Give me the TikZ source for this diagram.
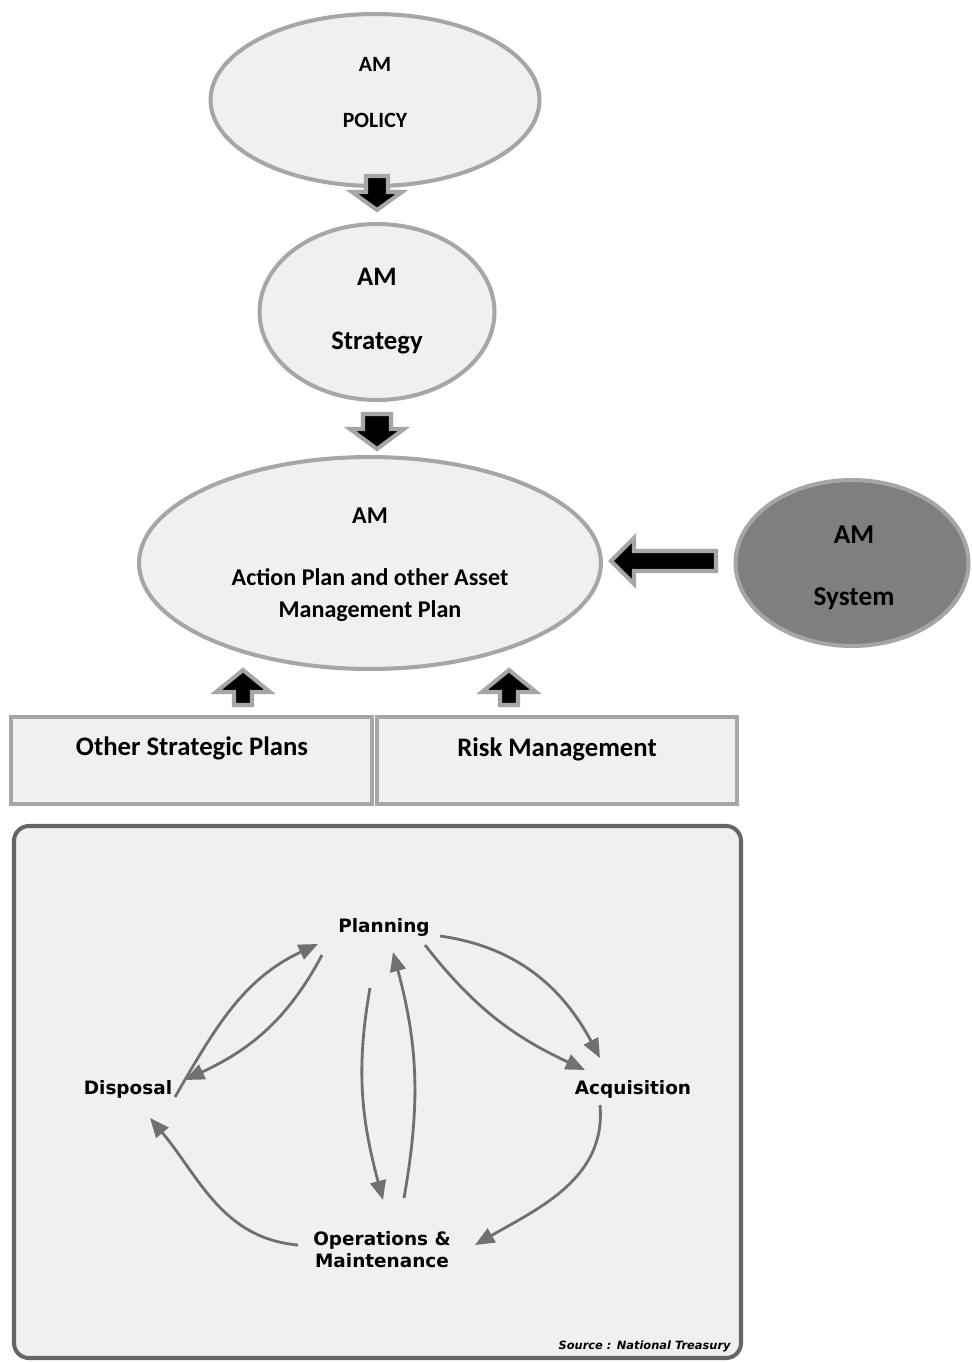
\documentclass[tikz,border=0pt]{standalone}
\usepackage{fontspec}
\setmainfont{Carlito}
\newfontfamily\cycfont{DejaVu Sans}
\usetikzlibrary{shapes.geometric,arrows.meta}

\definecolor{rimgray}{HTML}{A6A6A6}
\definecolor{paleback}{HTML}{F0F0F0}
\definecolor{darkfill}{HTML}{7F7F7F}
\definecolor{framegray}{HTML}{666666}
\definecolor{cyclegray}{HTML}{707070}

\tikzset{
	amellipse/.style={ellipse,draw=rimgray,fill=paleback,line width=2.3pt,inner sep=0pt},
	amtext/.style={inner sep=0pt},
	planbox/.style={rectangle,draw=rimgray,fill=paleback,line width=2.3pt,inner sep=0pt},
	blockarrow/.style={draw=rimgray,fill=black,line width=2.3pt,line join=miter},
	cyclabel/.style={font=\cycfont\bfseries\fontsize{10.5}{12.5}\selectfont,align=center,inner sep=0pt},
	cycarrow/.style={draw=cyclegray,line width=1.6pt,-{Triangle[length=11pt,width=9pt]}}
}

\begin{document}
\begin{tikzpicture}[x=0.02cm,y=-0.02cm]
		
		\useasboundingbox[fill=white] (0,0) rectangle (971,1362);
		
		\node[amellipse,minimum width=6.58cm,minimum height=3.44cm] (policy) at (375,100) {};
		\node[amtext,font=\fontsize{12.4}{14}\selectfont\bfseries] (policyA) at (375,64) {AM};
		\node[amtext,font=\fontsize{12.4}{14}\selectfont\bfseries] (policyB) at (375,120) {POLICY};
		
		\node[amellipse,minimum width=4.7cm,minimum height=3.52cm] (strategy) at (377,312) {};
		\node[amtext,font=\fontsize{15.2}{17}\selectfont\bfseries] (strategyA) at (377,277) {AM};
		\node[amtext,font=\fontsize{15.2}{17}\selectfont\bfseries] (strategyB) at (377,343) {Strategy};
		
		\node[amellipse,minimum width=9.24cm,minimum height=4.24cm] (action) at (370,563) {};
		\node[amtext,font=\fontsize{13.7}{15}\selectfont\bfseries] (actionA) at (370,516) {AM};
		\node[amtext,font=\fontsize{13.7}{15}\selectfont\bfseries] (actionB) at (370,577) {Action Plan and other Asset};
		\node[amtext,font=\fontsize{13.7}{15}\selectfont\bfseries] (actionC) at (370,611) {Management Plan};
		
		\node[amellipse,fill=darkfill,minimum width=4.66cm,minimum height=3.32cm] (system) at (852,563) {};
		\node[amtext,font=\fontsize{15.5}{17}\selectfont\bfseries] (systemA) at (854,535) {AM};
		\node[amtext,font=\fontsize{15.5}{17}\selectfont\bfseries] (systemB) at (854,599) {System};
		
		\node[planbox,minimum width=7.22cm,minimum height=1.74cm] (otherplans) at (191.5,760.5) {};
		\node[amtext,font=\fontsize{15.2}{17}\selectfont\bfseries] (otherplansT) at (192,748) {Other Strategic Plans};
		\node[planbox,minimum width=7.22cm,minimum height=1.74cm] (riskmgmt) at (557,760.5) {};
		\node[amtext,font=\fontsize{15.2}{17}\selectfont\bfseries] (riskmgmtT) at (557,749) {Risk Management};
		
		\draw[blockarrow] (366,176) -- (388,176) -- (388,192) -- (402,192) -- (377,210) -- (352,192) -- (366,192) -- cycle;
		\draw[blockarrow] (363,414) -- (391,414) -- (391,429) -- (404,429) -- (377,449) -- (350,429) -- (363,429) -- cycle;
		\draw[blockarrow] (716,551) -- (716,571) -- (634,571) -- (634,584) -- (611,561) -- (634,538) -- (634,551) -- cycle;
		\draw[blockarrow] (234,705) -- (252,705) -- (252,692) -- (270,692) -- (243,670) -- (216,692) -- (234,692) -- cycle;
		\draw[blockarrow] (500,705) -- (518,705) -- (518,692) -- (536,692) -- (509,670) -- (482,692) -- (500,692) -- cycle;
		
		\draw[draw=framegray,fill=paleback,line width=2.3pt,rounded corners=0.3cm] (14,826) rectangle (741,1358);
		
		\node[cyclabel] (plan) at (384,927) {Planning};
		\node[cyclabel] (acq) at (633,1089) {Acquisition};
		\node[cyclabel] (ops) at (382,1250) {Operations \&\\Maintenance};
		\node[cyclabel] (disp) at (128,1089) {Disposal};
		
		\draw[cycarrow] ([shift={(56,9)}]plan.center) to[out=-8,in=118] ([shift={(-33,-31)}]acq.center);
		\draw[cycarrow] ([shift={(41,18)}]plan.center) to[out=-52,in=155] ([shift={(-48,-19)}]acq.center);
		\draw[cycarrow] ([shift={(-33,16)}]acq.center) to[out=-85,in=30] ([shift={(93,-5)}]ops.center);
		\draw[cycarrow] ([shift={(-84,-5)}]ops.center) to[out=175,in=-50] ([shift={(22,29)}]disp.center);
		\draw[cycarrow] ([shift={(47,8)}]disp.center) to[out=60,in=-155] ([shift={(-66,17)}]plan.center);
		\draw[cycarrow] ([shift={(-62,28)}]plan.center) to[out=-118,in=25] ([shift={(57,-9)}]disp.center);
		\draw[cycarrow] ([shift={(-14,61)}]plan.center) to[out=-100,in=105] ([shift={(1,-50)}]ops.center);
		\draw[cycarrow] ([shift={(22,-52)}]ops.center) to[out=80,in=-75] ([shift={(9,25)}]plan.center);
		
		\node[font=\cycfont\bfseries\itshape\fontsize{6.5}{8}\selectfont,anchor=east,inner sep=0pt] (source) at (731,1346) {Source : National Treasury};
		
	\end{tikzpicture}
\end{document}
